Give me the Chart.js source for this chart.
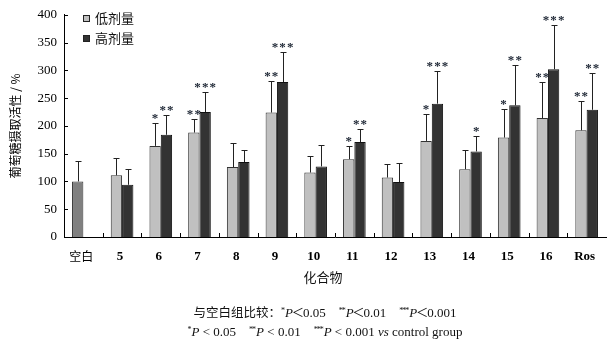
<!DOCTYPE html>
<html>
<head>
<meta charset="utf-8">
<script src="https://cdn.jsdelivr.net/npm/chart.js@4/dist/chart.umd.min.js"></script>
<style>
body { margin: 0; background: #fff; }
#wrap { position: relative; width: 610px; height: 341px; }
#wrap canvas { position: absolute; left: 0; top: 0; }
.note { position: absolute; left: 0; width: 650px; text-align: center; white-space: nowrap;
        font-family: 'Liberation Serif', 'Noto Sans CJK SC', serif; font-size: 13px; line-height: 16px; color: #111; }
.note sup { font-size: 8px; line-height: 0; vertical-align: 4px; letter-spacing: -1px; margin-right: 1px; }
.cjk { font-family: 'Noto Sans CJK SC', sans-serif; }
.lt { font-family: 'Noto Sans CJK SC', sans-serif; font-size: 12px; margin: 0 -1px; }
</style>
</head>
<body>
<div id="wrap">
  <canvas id="barChart" width="610" height="341"></canvas>
  <div class="note cjk" style="top:269px;width:646px">化合物</div>
  <div class="note" style="top:304px"><span class="cjk" style="font-size:12.5px">与空白组比较：</span><sup>*</sup><i>P</i><span class="lt">＜</span>0.05&nbsp;&nbsp;&nbsp;&nbsp;<sup>**</sup><i>P</i><span class="lt">＜</span>0.01&nbsp;&nbsp;&nbsp;&nbsp;<sup>***</sup><i>P</i><span class="lt">＜</span>0.001</div>
  <div class="note" style="top:324px"><sup>*</sup><i>P</i> &lt; 0.05&nbsp;&nbsp;&nbsp;&nbsp;<sup>**</sup><i>P</i> &lt; 0.01&nbsp;&nbsp;&nbsp;&nbsp;<sup>***</sup><i>P</i> &lt; 0.001 <i>vs</i> control group</div>
</div>
<script>
// compounds on the x axis
const categories = ['空白', '5', '6', '7', '8', '9', '10', '11', '12', '13', '14', '15', '16', 'Ros'];
// glucose uptake activity (%), mean and upper SD
const lowDose  = [100, 111, 164, 188, 126, 224, 116, 140, 107, 173, 122, 179, 214, 192];
const lowSD    = [37, 32, 42, 24, 43, 56, 29, 23, 24, 49, 34, 52, 65, 53];
const highDose = [null, 94, 184, 225, 135, 279, 127, 171, 99, 240, 154, 237, 302, 229];
const highSD   = [null, 28, 36, 36, 22, 54, 38, 24, 34, 58, 28, 72, 79, 66];
// significance vs control
const lowSig  = ['', '', '*', '**', '', '**', '', '*', '', '*', '', '*', '**', '**'];
const highSig = ['', '', '**', '***', '', '***', '', '**', '', '***', '*', '**', '***', '**'];
const yTicks = [0, 50, 100, 150, 200, 250, 300, 350, 400];

const serif = "'Liberation Serif', 'Times New Roman', serif";
const cjk = "'Noto Sans CJK SC', sans-serif";

// error bars, significance stars, inward ticks and legend
const extras = {
    id: 'extras',
    afterDatasetsDraw(chart) {
        const ctx = chart.ctx;
        const xs = chart.scales.x, ys = chart.scales.y;
        ctx.save();

        [[lowDose, lowSD, lowSig], [highDose, highSD, highSig]].forEach((set, di) => {
            const meta = chart.getDatasetMeta(di);
            meta.data.forEach((bar, i) => {
                const v = set[0][i];
                if (v == null) return;
                const bx = Math.round(bar.x) + 0.5;
                const top = Math.round(ys.getPixelForValue(v + set[1][i])) + 0.5;
                ctx.strokeStyle = '#222';
                ctx.lineWidth = 1;
                ctx.beginPath();
                ctx.moveTo(bx, bar.y);
                ctx.lineTo(bx, top);
                ctx.moveTo(bx - 3, top);
                ctx.lineTo(bx + 3, top);
                ctx.stroke();
                if (set[2][i]) {
                    ctx.fillStyle = '#1c2533';
                    ctx.font = 'bold 13px ' + serif;
                    ctx.textAlign = 'center';
                    ctx.textBaseline = 'alphabetic';
                    ctx.fillText(set[2][i].split('').join('\u200a'), bar.x, top - 2);
                }
            });
        });

        // y ticks pointing inward
        ctx.strokeStyle = '#000';
        ctx.beginPath();
        yTicks.forEach(t => {
            const py = Math.round(ys.getPixelForValue(t)) + 0.5;
            ctx.moveTo(xs.left, py);
            ctx.lineTo(xs.left + 4, py);
        });
        // x ticks between categories
        const step = (xs.right - xs.left) / categories.length;
        for (let i = 1; i < categories.length; i++) {
            const px = Math.round(xs.left + i * step) + 0.5;
            ctx.moveTo(px, ys.bottom);
            ctx.lineTo(px, ys.bottom - 4);
        }
        ctx.stroke();

        // legend
        const items = [chart.data.datasets[0], chart.data.datasets[1]];
        const colors = ['#c0c0c0', '#333333'];
        items.forEach((ds, k) => {
            const cy = 18 + k * 20;
            ctx.fillStyle = colors[k];
            ctx.fillRect(83, cy - 3, 7, 7);
            ctx.strokeStyle = '#222';
            ctx.strokeRect(83.5, cy - 2.5, 6, 6);
            ctx.fillStyle = '#111';
            ctx.font = '13px ' + cjk;
            ctx.textAlign = 'left';
            ctx.textBaseline = 'middle';
            ctx.fillText(ds.label, 95, cy);
        });
        ctx.restore();
    }
};

function initializeChart() {
    const ctx = document.getElementById('barChart').getContext('2d');
    new Chart(ctx, {
        type: 'bar',
        data: {
            labels: categories,
            datasets: [
                {
                    label: '低剂量',
                    data: lowDose,
                    backgroundColor: lowDose.map((v, i) => i === 0 ? '#808080' : '#c0c0c0'),
                    borderColor: '#333',
                    borderWidth: 1
                },
                {
                    label: '高剂量',
                    data: highDose,
                    backgroundColor: '#333333',
                    borderColor: '#111',
                    borderWidth: 1
                }
            ]
        },
        options: {
            responsive: false,
            animation: false,
            categoryPercentage: 0.585,
            barPercentage: 1,
            layout: { padding: { top: 13, right: 4, left: 0, bottom: 0 } },
            plugins: { legend: { display: false }, tooltip: { enabled: false } },
            scales: {
                x: {
                    grid: { display: false, drawTicks: false },
                    border: { display: true, color: '#000' },
                    ticks: {
                        padding: 12,
                        labelOffset: -2,
                        color: '#000',
                        font: c => c.index === 0
                            ? { family: cjk, size: 12 }
                            : { family: serif, size: 13, weight: 'bold' }
                    },
                    afterFit(s) { s.height = 104; }
                },
                y: {
                    min: 0,
                    max: 400,
                    grid: { display: false, drawTicks: false },
                    border: { display: true, color: '#000' },
                    ticks: { stepSize: 50, padding: 7, color: '#000', font: { family: serif, size: 13 } },
                    title: {
                        display: true,
                        text: '葡萄糖摄取活性 / %',
                        color: '#000',
                        font: { family: cjk, size: 12 },
                        padding: { top: 8, bottom: 0 }
                    },
                    afterFit(s) { s.width = 64; }
                }
            }
        },
        plugins: [extras]
    });
}

initializeChart();
</script>
</body>
</html>
